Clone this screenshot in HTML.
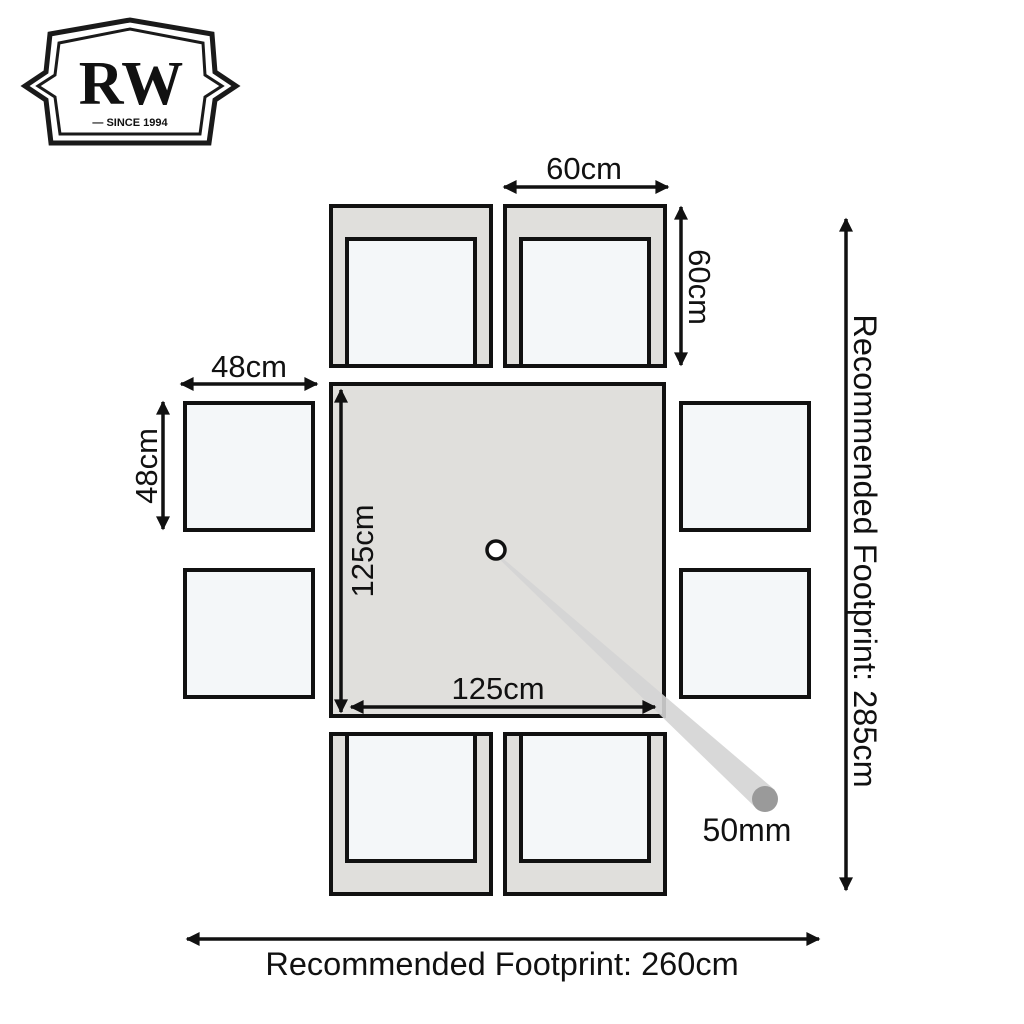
<!DOCTYPE html>
<html><head><meta charset="utf-8"><style>
html,body{margin:0;padding:0;background:#fff}
svg{display:block}
text{font-family:"Liberation Sans",sans-serif;fill:#111}
</style></head><body>
<svg width="1024" height="1024" viewBox="0 0 1024 1024" xmlns="http://www.w3.org/2000/svg">
<defs>
<marker id="a" viewBox="0 0 10 10" refX="9" refY="5" markerWidth="4.5" markerHeight="4" orient="auto-start-reverse" markerUnits="strokeWidth">
<path d="M0,0 L10,5 L0,10 z" fill="#111"/></marker>
</defs>
<!-- logo -->
<g fill="none" stroke="#1a1a1a">
<path d="M50,34 L130,20 L212,34 L215,72 L236,86 L215,100 L209,143 L51,143 L46,100 L25,86 L46,72 Z" stroke-width="5" fill="#fff"/>
<path d="M59,43 L130,29 L203,43 L205,75 L222,86 L205,97 L200,134 L60,134 L55,97 L38,86 L55,75 Z" stroke-width="3"/>
</g>
<text x="131" y="104" text-anchor="middle" style="font-family:'Liberation Serif',serif;font-weight:bold;font-size:62px">RW</text>
<text x="130" y="126" text-anchor="middle" style="font-family:'Liberation Sans',sans-serif;font-weight:bold;font-size:11px">— SINCE 1994</text>

<g stroke="#111" stroke-width="4">
<rect x="331" y="206" width="160" height="160" fill="#e0dfdc"/>
<rect x="347" y="239" width="128" height="127" fill="#f4f7f9"/>
<rect x="505" y="206" width="160" height="160" fill="#e0dfdc"/>
<rect x="521" y="239" width="128" height="127" fill="#f4f7f9"/>
<rect x="331" y="734" width="160" height="160" fill="#e0dfdc"/>
<rect x="347" y="734" width="128" height="127" fill="#f4f7f9"/>
<rect x="505" y="734" width="160" height="160" fill="#e0dfdc"/>
<rect x="521" y="734" width="128" height="127" fill="#f4f7f9"/>
<rect x="331" y="384" width="333" height="332" fill="#e0dfdc"/>
<rect x="185" y="403" width="128" height="127" fill="#f4f7f9"/>
<rect x="185" y="570" width="128" height="127" fill="#f4f7f9"/>
<rect x="681" y="403" width="128" height="127" fill="#f4f7f9"/>
<rect x="681" y="570" width="128" height="127" fill="#f4f7f9"/>
</g>
<path d="M500,556 L492,552 L756,808 L775,790 Z" fill="#d4d4d4" opacity="0.9"/>
<circle cx="765" cy="799" r="13" fill="#9a9a9a"/>
<circle cx="496" cy="550" r="9" fill="#fff" stroke="#111" stroke-width="3.5"/>

<g stroke="#111" stroke-width="3.5" marker-start="url(#a)" marker-end="url(#a)">
<line x1="504" y1="187" x2="668" y2="187"/>
<line x1="681" y1="207" x2="681" y2="365"/>
<line x1="181" y1="384" x2="317" y2="384"/>
<line x1="163" y1="402" x2="163" y2="529"/>
<line x1="846" y1="219" x2="846" y2="890"/>
<line x1="187" y1="939" x2="819" y2="939"/>
<line x1="341" y1="390" x2="341" y2="712"/>
<line x1="351" y1="707" x2="655" y2="707"/>
</g>

<g style="font-size:31px">
<text x="584" y="179" text-anchor="middle">60cm</text>
<text x="249" y="377" text-anchor="middle">48cm</text>
<text x="498" y="699" text-anchor="middle">125cm</text>
<text x="747" y="841" text-anchor="middle" style="font-size:32px">50mm</text>
<text transform="translate(689,287) rotate(90)" text-anchor="middle">60cm</text>
<text transform="translate(157,466) rotate(-90)" text-anchor="middle">48cm</text>
<text transform="translate(373,551) rotate(-90)" text-anchor="middle">125cm</text>
</g>
<g style="font-size:32.5px">
<text transform="translate(854,551) rotate(90)" text-anchor="middle">Recommended Footprint: 285cm</text>
<text x="502" y="975" text-anchor="middle">Recommended Footprint: 260cm</text>
</g>
</svg>
</body></html>
